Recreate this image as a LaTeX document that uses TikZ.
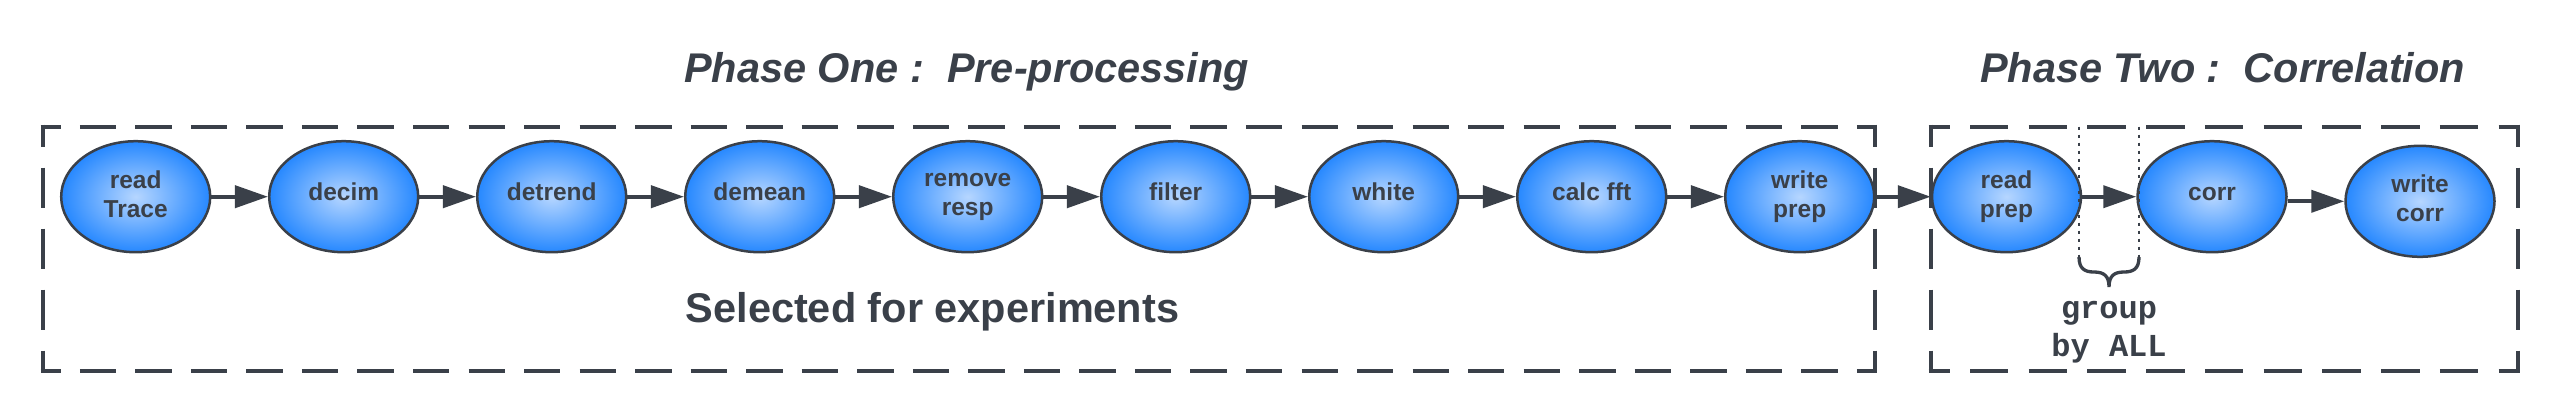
\documentclass[tikz,border=0pt]{standalone}
\usepackage{fontspec}
\setmainfont{Liberation Sans}
\setmonofont{Liberation Mono}
\usetikzlibrary{shapes.geometric,arrows.meta}
\definecolor{ink}{RGB}{58,64,73}
\definecolor{bluein}{RGB}{182,214,255}
\definecolor{blueout}{RGB}{38,136,255}
\begin{document}
\begin{tikzpicture}[x=1pt,y=-1pt,
  proc/.style={ellipse, draw=ink, line width=2.5pt, inner color=bluein, outer color=blueout,
    minimum width=149pt, minimum height=111pt, inner sep=0pt, text=ink,
    font=\bfseries\fontsize{24.5pt}{29pt}\selectfont},
  one/.style={text height=17pt, text depth=10pt},
  two/.style={align=center, execute at begin node={\rule{0pt}{18pt}},
    execute at end node={\rule[-5.4pt]{0pt}{5.4pt}}},
  flow/.style={draw=ink, line width=4pt, -{Triangle[length=33pt,width=22pt]}},
  frame/.style={draw=ink, line width=4pt},
  dotline/.style={draw=ink, line width=2pt, dash pattern=on 3pt off 5pt},
  bracepath/.style={draw=ink, line width=3.3pt},
  title/.style={anchor=base west, inner sep=0pt, text=ink,
    font=\bfseries\itshape\fontsize{41.5pt}{50pt}\selectfont},
  caption/.style={anchor=base west, inner sep=0pt, text=ink,
    font=\bfseries\fontsize{41.5pt}{50pt}\selectfont},
  monolabel/.style={anchor=base, inner sep=0pt, text=ink, align=center,
    font=\ttfamily\bfseries\fontsize{32pt}{38.4pt}\selectfont}
]
\useasboundingbox (0,0) rectangle (2563,418);

% nodes
\node[proc,two] (n1)  at (135.7,196.7)  {read\\Trace};
\node[proc,one] (n2)  at (343.7,196.7)  {decim};
\node[proc,one] (n3)  at (551.7,196.7)  {detrend};
\node[proc,one] (n4)  at (759.7,196.7)  {demean};
\node[proc,two] (n5)  at (967.7,196.7)  {remove\\resp};
\node[proc,one] (n6)  at (1175.7,196.7) {filter};
\node[proc,one] (n7)  at (1383.7,196.7) {white};
\node[proc,one] (n8)  at (1591.7,196.7) {calc fft};
\node[proc,two] (n9)  at (1799.7,196.7) {write\\prep};
\node[proc,two] (n10) at (2006.5,196.7) {read\\prep};
\node[proc,one] (n11) at (2212,196.7)   {corr};
\node[proc,two] (n12) at (2420,201.3)   {write\\corr};

% dashed frames (box 1: 42.5..1875 x 126.7..370.7)
\draw[frame, dash pattern=on 36.37pt off 19.16pt, dash phase=16.19pt] (40.5,126.7) -- (1877,126.7);
\draw[frame, dash pattern=on 36.37pt off 19.16pt, dash phase=16.19pt] (40.5,370.7) -- (1877,370.7);
\draw[frame, dash pattern=on 39.96pt off 21.04pt, dash phase=17.98pt] (42.5,124.7) -- (42.5,372.7);
\draw[frame, dash pattern=on 39.96pt off 21.04pt, dash phase=17.98pt] (1875,124.7) -- (1875,372.7);
% box 2: 1930.5..2517.8
\draw[frame, dash pattern=on 38.47pt off 20.26pt, dash phase=17.24pt] (1928.5,126.7) -- (2519.8,126.7);
\draw[frame, dash pattern=on 38.47pt off 20.26pt, dash phase=17.24pt] (1928.5,370.7) -- (2519.8,370.7);
\draw[frame, dash pattern=on 39.96pt off 21.04pt, dash phase=17.98pt] (1930.5,124.7) -- (1930.5,372.7);
\draw[frame, dash pattern=on 39.96pt off 21.04pt, dash phase=17.98pt] (2517.8,124.7) -- (2517.8,372.7);

% group-by marker
\coordinate (gla) at (2079,126.7);
\coordinate (glb) at (2079,257);
\coordinate (gra) at (2139,126.7);
\coordinate (grb) at (2139,257);
\coordinate (gtip) at (2109,287);
\draw[dotline] (gla) -- (glb);
\draw[dotline] (gra) -- (grb);
\draw[bracepath] (glb) .. controls (2079,269) and (2085,272) .. (2094,272)
  .. controls (2104,272) and (2109,276) .. (gtip)
  .. controls (2109,276) and (2114,272) .. (2124,272)
  .. controls (2133,272) and (2139,269) .. (grb);

% connectors
\draw[flow] (n1) -- (n2);
\draw[flow] (n2) -- (n3);
\draw[flow] (n3) -- (n4);
\draw[flow] (n4) -- (n5);
\draw[flow] (n5) -- (n6);
\draw[flow] (n6) -- (n7);
\draw[flow] (n7) -- (n8);
\draw[flow] (n8) -- (n9);
\draw[flow] (n9) -- (n10);
\draw[flow] (n10) -- (n11);
\draw[flow] (n11.east |- n12.west) -- (n12.west);

% texts
\node[title] (t1) at (684,82.7) {Phase One :\ \ Pre-processing};
\node[title] (t2) at (1980,82.7) {Phase Two :\ \ Correlation};
\node[caption] (sel) at (685.5,322.7) {Selected for experiments};
\node[monolabel] (grp) at (2109,356.7) {group\\by ALL};
\end{tikzpicture}
\end{document}
